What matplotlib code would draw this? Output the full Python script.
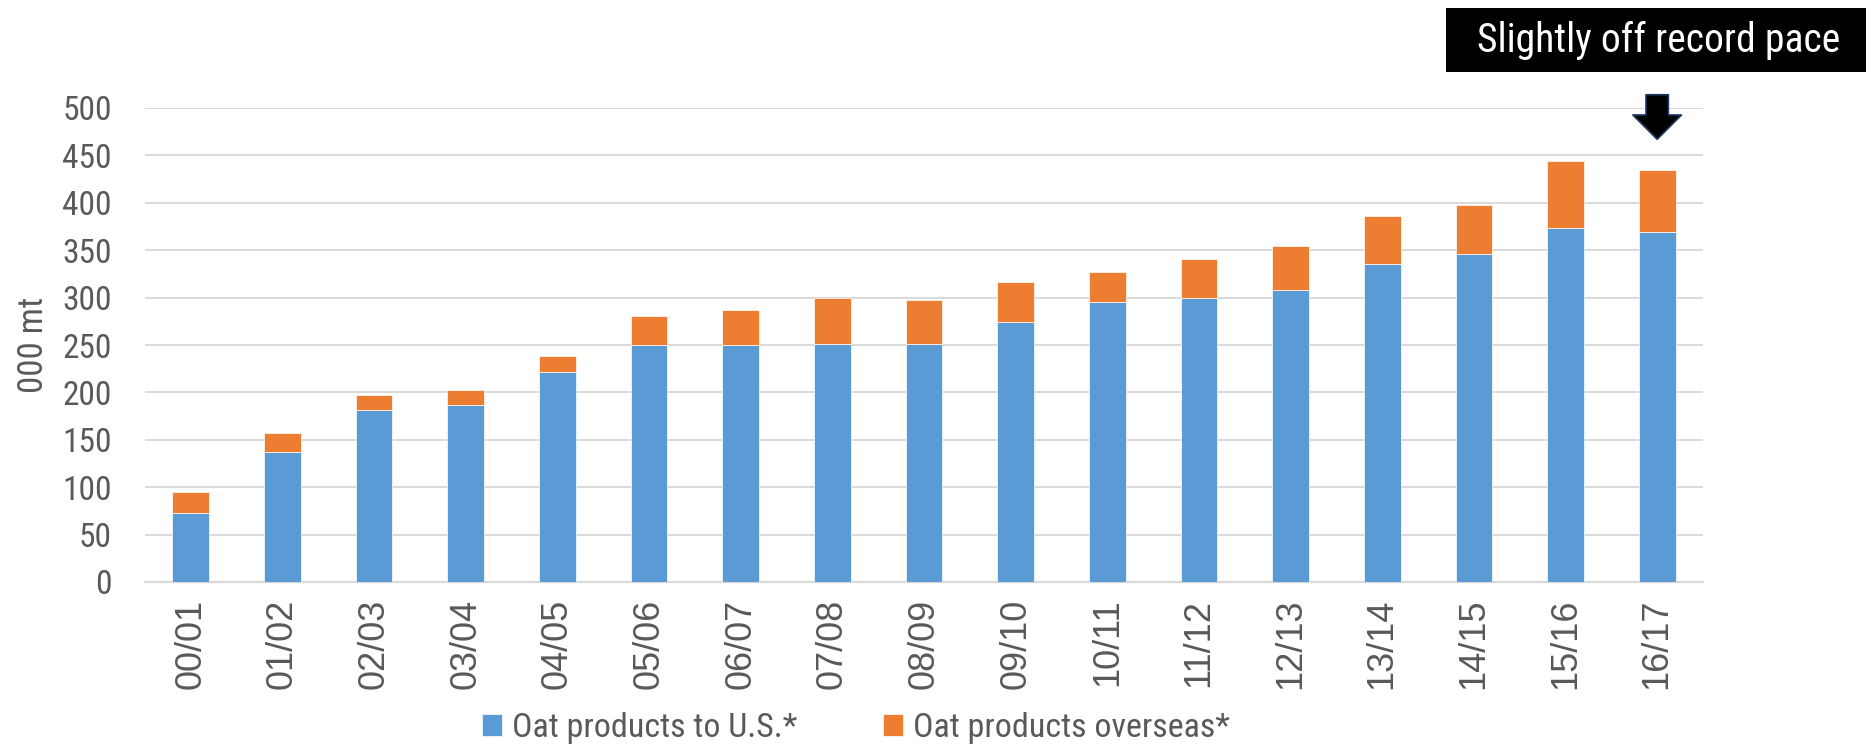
import matplotlib.pyplot as plt
import matplotlib.patches as mpatches

# === DATA ===
SEASONS = ['00/01', '01/02', '02/03', '03/04', '04/05', '05/06', '06/07', '07/08', '08/09',
           '09/10', '10/11', '11/12', '12/13', '13/14', '14/15', '15/16', '16/17']
TO_US = [72.5, 137, 181, 187, 222, 250, 250, 251, 251, 274, 295, 300, 308, 335, 346, 373, 369]
OVERSEAS = [22, 20, 16, 16, 16, 31, 37, 49, 46, 42, 32, 41, 46, 51, 52, 71, 66]
YTICKS = [0, 50, 100, 150, 200, 250, 300, 350, 400, 450, 500]

BLUE = '#5B9BD5'
ORANGE = '#ED7D31'
GRID = '#D9D9D9'
TXT = '#595959'
NARROW = ['Roboto Condensed', 'DejaVu Sans']

fig = plt.figure(figsize=(18.66, 7.52), dpi=100)
ax = fig.add_axes([145 / 1866, 1 - 582 / 752, (1703 - 145) / 1866, (582 - 108) / 752])

x = list(range(len(SEASONS)))
ax.bar(x, TO_US, width=0.4, color=BLUE, edgecolor='white', linewidth=0.5,
       label='Oat products to U.S.*', zorder=3)
ax.bar(x, OVERSEAS, width=0.4, bottom=TO_US, color=ORANGE, edgecolor='white',
       linewidth=0.5, label='Oat products overseas*', zorder=3)

ax.set_xlim(-0.5, len(SEASONS) - 0.5)
ax.set_ylim(0, 500)
ax.set_yticks(YTICKS)
ax.set_yticklabels([str(v) for v in YTICKS], family=NARROW, fontsize=24, color=TXT)
ax.set_xticks(x)
ax.set_xticklabels(SEASONS, rotation=90, family=['Liberation Sans', 'DejaVu Sans'],
                   fontsize=26, color=TXT)
ax.tick_params(axis='y', length=0, pad=24)
ax.tick_params(axis='x', length=0, pad=12)
ax.grid(axis='y', color=GRID, linewidth=1.4, zorder=0)
for s in ['top', 'right', 'left']:
    ax.spines[s].set_visible(False)
ax.spines['bottom'].set_color(GRID)
ax.spines['bottom'].set_linewidth(1.6)

ax.set_ylabel('000 mt', family=NARROW, fontsize=25, color=TXT)
ax.yaxis.set_label_coords(-0.061, 0.5)

# arrow pointing at the latest season
ax.annotate('', xy=(len(SEASONS) - 1, 467), xytext=(len(SEASONS) - 1, 514),
            annotation_clip=False,
            arrowprops=dict(arrowstyle='simple,head_length=0.5,head_width=1.0,tail_width=0.46',
                            mutation_scale=35, fc='black', ec='#1F3864', lw=1.2,
                            shrinkA=0, shrinkB=0))

# black callout box
fig.patches.append(mpatches.Rectangle((1446 / 1866, 1 - 72 / 752), 420 / 1866, 64 / 752,
                                      transform=fig.transFigure, facecolor='black',
                                      edgecolor='none'))
fig.text(1659 / 1866, 1 - 40 / 752, 'Slightly off record pace', ha='center', va='center',
         color='white', fontsize=28.5, family=NARROW)

leg = fig.legend(loc='center', bbox_to_anchor=(856 / 1866, 1 - 728 / 752), ncol=2,
                 frameon=False, prop={'family': NARROW, 'size': 24.5},
                 handlelength=0.6, handleheight=0.6, handletextpad=0.3, columnspacing=2.5)
for t in leg.get_texts():
    t.set_color(TXT)

fig.savefig('out.png', dpi=100)
